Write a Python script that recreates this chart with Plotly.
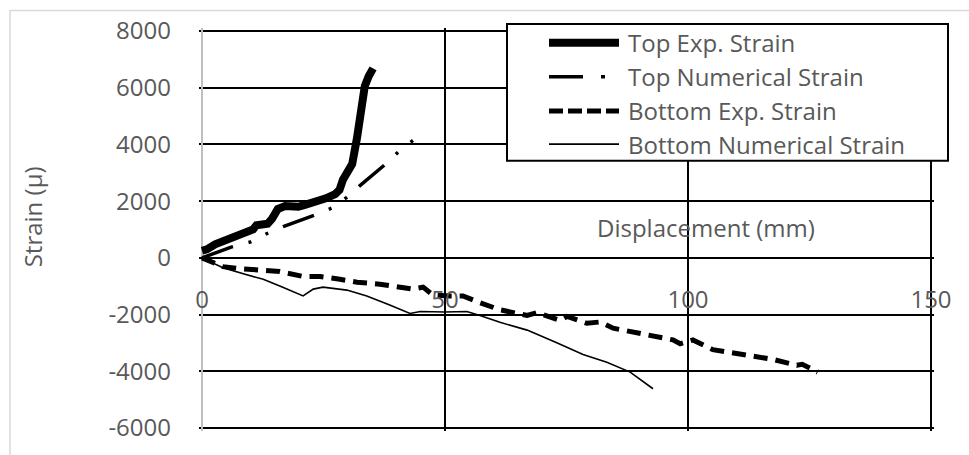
import plotly.graph_objects as go

# Top of specimen: measured (experimental) strain
top_exp_x = [0, 1, 2.7, 4, 5.3, 6.5, 7.4, 8.5, 9.5, 10.5, 11.2, 12.3, 13.5, 14.4, 15.6,
             17.1, 18.5, 19.8, 21, 22.6, 24, 25.5, 27.4, 28.3, 29, 30.9, 31.9, 32.9,
             33.5, 34.3, 35.2]
top_exp_y = [250, 300, 480, 560, 688, 740, 826, 900, 964, 1000, 1150, 1170, 1200, 1377, 1721,
             1824, 1780, 1800, 1860, 1928, 2000, 2100, 2250, 2400, 2754, 3305, 4234, 5267,
             6058, 6400, 6678]

# Top of specimen: numerical model strain
top_num_x = [0, 6, 10, 13.4, 16.7, 20, 23.3, 26.7, 29.8, 32.5, 35, 38, 40.5, 43.6]
top_num_y = [0, 380, 560, 860, 1100, 1300, 1515, 1756, 2134, 2547, 2900, 3339, 3752, 4165]

# Bottom of specimen: measured (experimental) strain
bot_exp_x = [0, 2, 4.3, 8, 11.3, 16, 20.8, 24.3, 28.4, 31.9, 36.6, 40.7, 43.4, 45.5, 47.5,
             51, 53.7, 57.2, 61.3, 66.9, 68.9, 73.7, 75.1, 79.2, 81.9, 84.6, 90.1, 92.8,
             96.9, 98.4, 101, 105.1, 112.1, 117.5, 122.4, 123.5, 126.7]
bot_exp_y = [0, -150, -310, -380, -413, -482, -654, -654, -757, -860, -929, -1033, -1101, -1033, -1308,
             -1342, -1342, -1580, -1830, -2031, -1928, -2203, -2065, -2306, -2260, -2478, -2651, -2760,
             -2892, -3029, -2892, -3236, -3443, -3580, -3787, -3750, -4027]

# Bottom of specimen: numerical model strain
bot_num_x = [0, 4.3, 8.5, 12.6, 16.5, 20.2, 20.8, 22.9, 24.9, 29.8, 33.9, 38.5, 42.8, 44.9,
             50, 54.5, 57.2, 61.3, 66.9, 73, 78.4, 83.3, 88.1, 92.8]
bot_num_y = [0, -344, -560, -757, -1030, -1308, -1342, -1101, -1033, -1136, -1342, -1650, -1962, -1893,
             -1910, -1893, -2031, -2272, -2547, -2995, -3408, -3683, -4027, -4613]

series_names = ["Top Exp. Strain", "Top Numerical Strain", "Bottom Exp. Strain", "Bottom Numerical Strain"]

x_ticks = [0, 50, 100, 150]
y_ticks = [-6000, -4000, -2000, 0, 2000, 4000, 6000, 8000]
x_title = "Displacement (mm)"
y_title = "Strain (µ)"

W, H = 969, 455
# inner frame of the value grid (pixels): left, right, top, bottom
GL, GR, GT, GB = 202, 931, 31, 438
PAD = 3  # small overhang so that the edge gridlines are kept
ML, MR, MT, MB = GL - PAD, W - GR - PAD, GT - PAD, H - GB - PAD
PW, PH = W - ML - MR, H - MT - MB

x_lo, x_hi = 0, 150
y_lo, y_hi = -6000, 8000
x_pad = PAD * (x_hi - x_lo) / (GR - GL)
y_pad = PAD * (y_hi - y_lo) / (GB - GT)

FONT = "Open Sans"
GREY = "#595959"

# styles for each series: (width, dash)
styles = [
    (8, "solid"),
    (3.5, "33px,16px,3px,16px,3px,16px"),
    (5, "14px,8px"),
    (1.6, "solid"),
]


def px_x(p):
    return (p - ML) / PW


def px_y(p):
    return (H - MB - p) / PH


fig = go.Figure()
data = [(top_exp_x, top_exp_y), (top_num_x, top_num_y), (bot_exp_x, bot_exp_y), (bot_num_x, bot_num_y)]
for (xs, ys), name, (w, d) in zip(data, series_names, styles):
    fig.add_trace(go.Scatter(x=xs, y=ys, mode="lines", name=name,
                             line=dict(color="black", width=w, dash=d), showlegend=False))

fig.update_layout(
    width=W, height=H,
    margin=dict(l=ML, r=MR, t=MT, b=MB, pad=0),
    paper_bgcolor="white", plot_bgcolor="white",
    font=dict(family=FONT, size=24, color=GREY),
    xaxis=dict(
        range=[x_lo - x_pad, x_hi + x_pad], tickvals=x_ticks, ticktext=[str(v) for v in x_ticks],
        showgrid=True, gridcolor="black", gridwidth=1.8,
        zeroline=True, zerolinecolor="#bfbfbf", zerolinewidth=1.8,
        showline=False, ticks="",
        anchor="free", position=(0 - (y_lo - y_pad)) / ((y_hi + y_pad) - (y_lo - y_pad)),
        ticklabelstandoff=25,
        tickfont=dict(family=FONT, size=24, color=GREY),
    ),
    yaxis=dict(
        range=[y_lo - y_pad, y_hi + y_pad], tickvals=y_ticks, ticktext=[str(v) for v in y_ticks],
        showgrid=True, gridcolor="black", gridwidth=1.8,
        zeroline=True, zerolinecolor="black", zerolinewidth=1.6,
        showline=False, ticks="",
        ticklabelstandoff=27,
        tickfont=dict(family=FONT, size=24, color=GREY),
    ),
)

shapes = []
annotations = []

# outer chart frame
shapes.append(dict(type="rect", xref="paper", yref="paper",
                   x0=px_x(10), x1=px_x(985), y0=px_y(470), y1=px_y(10),
                   line=dict(color="#d9d9d9", width=1.5), fillcolor="rgba(0,0,0,0)", layer="below"))

# legend box
shapes.append(dict(type="rect", xref="paper", yref="paper",
                   x0=px_x(507), x1=px_x(948), y0=px_y(164), y1=px_y(24),
                   line=dict(color="black", width=2), fillcolor="white", layer="above"))
legend_rows = [43, 78, 113, 147]
legend_dash = ["solid", "34px,18px,4px,30px", "14px,5px", "solid"]
for row, name, (w, _), d in zip(legend_rows, series_names, styles, legend_dash):
    shapes.append(dict(type="line", xref="paper", yref="paper",
                       x0=px_x(549), x1=px_x(619), y0=px_y(row), y1=px_y(row),
                       line=dict(color="black", width=w, dash=d), layer="above"))
    annotations.append(dict(text=name, xref="paper", yref="paper", x=px_x(626), y=px_y(row),
                            xanchor="left", yanchor="middle", showarrow=False,
                            font=dict(family=FONT, size=24, color=GREY)))

# axis titles
annotations.append(dict(text=x_title, xref="paper", yref="paper", x=px_x(706), y=px_y(232),
                        xanchor="center", yanchor="middle", showarrow=False,
                        font=dict(family=FONT, size=24, color=GREY)))
annotations.append(dict(text=y_title, xref="paper", yref="paper", x=px_x(32), y=px_y(222),
                        xanchor="center", yanchor="middle", showarrow=False, textangle=-90,
                        font=dict(family=FONT, size=24, color=GREY)))

fig.update_layout(shapes=shapes, annotations=annotations)
fig.write_html("out.html")
